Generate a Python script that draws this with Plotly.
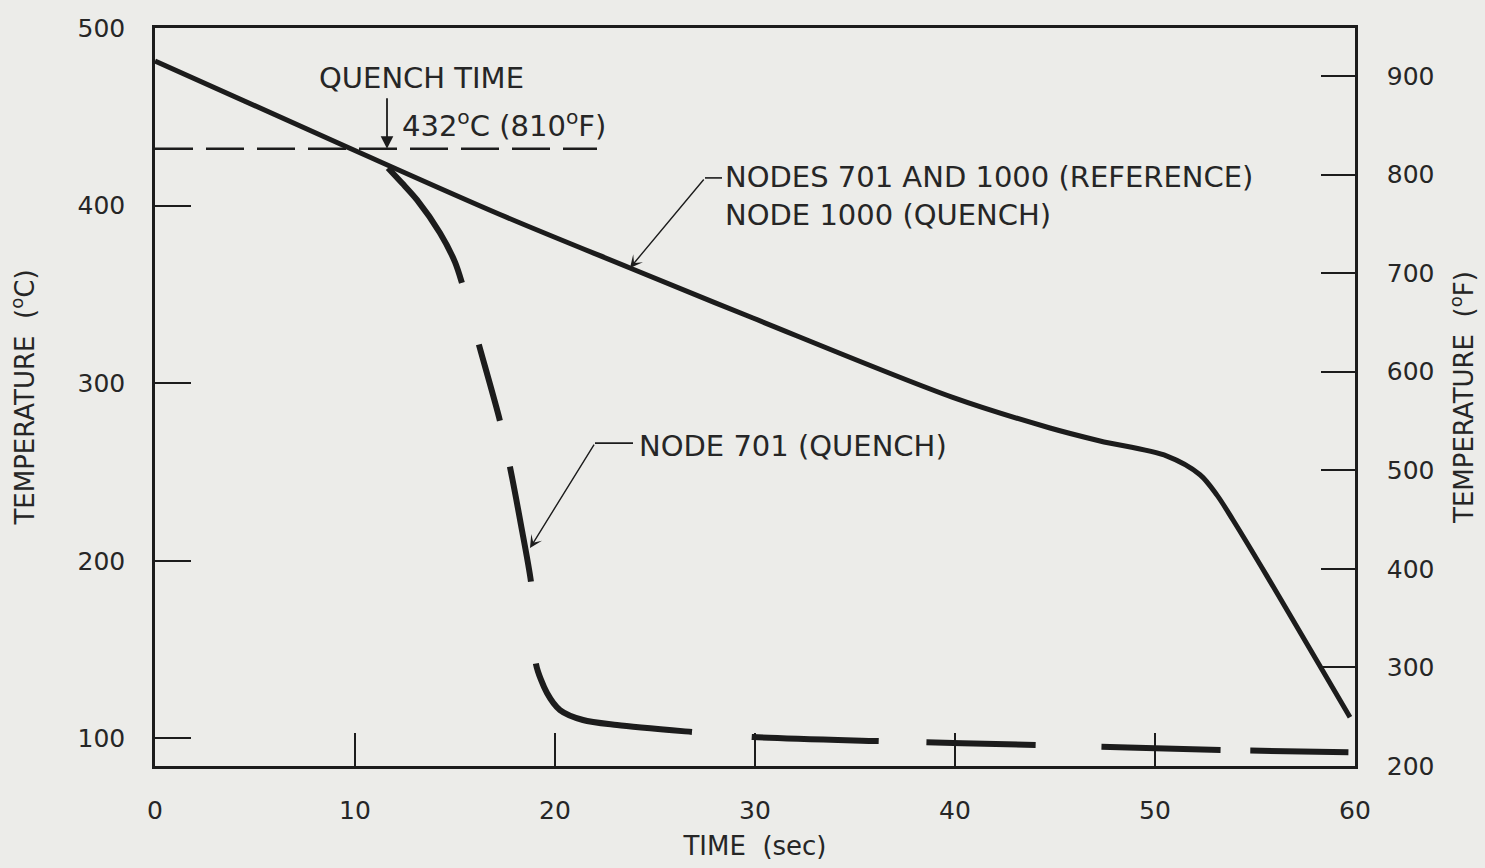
import plotly.graph_objects as go

# ---- data -------------------------------------------------------------
# Time axis ticks (sec) and temperature ticks
time_ticks = [0, 10, 20, 30, 40, 50, 60]
temp_c_ticks = [100, 200, 300, 400, 500]
temp_f_ticks = [200, 300, 400, 500, 600, 700, 800, 900]

# Nodes 701 and 1000 (reference) / node 1000 (quench), deg C
ref_time = [0, 9.6, 17.25, 23.75, 29.9, 39.85, 44.75, 47.25,
            50.6, 52.25, 53.1, 53.9, 55.6, 58.1, 59.75]
ref_temp = [481.4, 433.0, 395.0, 364.9, 336.7, 292.2, 274.8, 267.5,
            259.0, 248.5, 237.0, 223.0, 191.4, 143.6, 112.0]

# Node 701 (quench), deg C
quench_time = [11.65, 12.35, 13.1, 14.25, 15.0, 15.35, 16.2, 17.25, 17.75,
               18.3, 18.8, 19.0, 19.05, 19.6, 20.25, 21.4, 23.1, 26.9,
               29.9, 36.25, 44.1, 53.35, 59.75]
quench_temp = [421.2, 412.7, 403.2, 384.6, 368.2, 356.4, 321.5, 278.7, 252.8,
               220.2, 188.1, 161.0, 141.9, 125.6, 116.0, 110.4, 107.6, 103.6,
               100.8, 98.5, 96.3, 93.5, 92.3]

# Quench temperature marker line
quench_level_c = 432
quench_level_time = [0, 22.1]
quench_instant = 11.6

# ---- styling ----------------------------------------------------------
INK = "#1c1c1c"
TXT = "#262626"
PAPER = "#ecece9"
FONT = "DejaVu Sans"

fig = go.Figure()

fig.add_trace(go.Scatter(
    x=quench_level_time, y=[quench_level_c] * len(quench_level_time),
    mode="lines", line=dict(color=INK, width=2.5, dash="38px,13px"),
    hoverinfo="skip", showlegend=False))

fig.add_trace(go.Scatter(
    x=ref_time, y=ref_temp, mode="lines",
    line=dict(color=INK, width=5, shape="spline", smoothing=0.9),
    name="NODES 701 AND 1000 (REFERENCE)", showlegend=False))

fig.add_trace(go.Scatter(
    x=quench_time, y=quench_temp, mode="lines",
    line=dict(color=INK, width=6, shape="spline", smoothing=0.8,
              dash="138px,64px,79px,47px,117px,82px,188px,60px,127px,48px,"
                   "109px,66px,119px,30px,98px,40px"),
    name="NODE 701 (QUENCH)", showlegend=False))

# invisible trace to activate the deg F axis
fig.add_trace(go.Scatter(x=[None], y=[None], yaxis="y2", showlegend=False,
                         hoverinfo="skip"))

axis_common = dict(showgrid=False, zeroline=False, showline=True,
                   automargin=False,
                   linecolor=INK, linewidth=2.5, ticks="inside",
                   tickcolor=INK, tickwidth=2,
                   tickfont=dict(family=FONT, size=25, color=TXT))
title_font = dict(family=FONT, size=26, color=TXT)

fig.update_layout(
    width=1485, height=868,
    margin=dict(l=155, r=130, t=28, b=102),
    paper_bgcolor=PAPER, plot_bgcolor=PAPER,
    xaxis=dict(range=[0, 60], tickvals=time_ticks, ticklen=33,
               mirror=True, ticklabelstandoff=20,
               title=dict(text="TIME  (sec)", standoff=14, font=title_font),
               **axis_common),
    yaxis=dict(range=[84.5, 500], tickvals=temp_c_ticks, ticklen=36,
               mirror=True, ticklabelstandoff=22,
               title=dict(text="TEMPERATURE  (<sup>o</sup>C)", standoff=36,
                          font=title_font),
               **axis_common),
    yaxis2=dict(range=[200, 948.7], tickvals=temp_f_ticks, ticklen=34,
                overlaying="y", side="right", ticklabelstandoff=24,
                title=dict(text="TEMPERATURE  (<sup>o</sup>F)", standoff=22,
                           font=title_font),
                **axis_common),
)

ann_font = dict(family=FONT, size=29, color=TXT)

fig.add_annotation(x=13.3, y=471.8, text="QUENCH TIME", showarrow=False,
                   font=ann_font)
fig.add_annotation(x=quench_instant, y=quench_level_c, ax=0, ay=-52, text="",
                   showarrow=True, arrowhead=2, arrowsize=1.4,
                   arrowwidth=1.8, arrowcolor=INK)
fig.add_annotation(x=12.25, y=446, xanchor="left",
                   text="432<sup>o</sup>C (810<sup>o</sup>F)",
                   showarrow=False, font=ann_font)

fig.add_annotation(x=28.4, y=405.4, xanchor="left", align="left",
                   text="NODES 701 AND 1000 (REFERENCE)<br>NODE 1000 (QUENCH)",
                   showarrow=False, font=ann_font)
fig.add_annotation(x=23.75, y=364.9, ax=75, ay=-90, text="",
                   showarrow=True, arrowhead=3, arrowsize=1.5,
                   arrowwidth=1.4, arrowcolor=INK)
fig.add_shape(type="line", x0=27.5, x1=28.35, y0=415.6, y1=415.6,
              line=dict(color=INK, width=1.6))

fig.add_annotation(x=24.1, y=264.6, xanchor="left",
                   text="NODE 701 (QUENCH)", showarrow=False, font=ann_font)
fig.add_annotation(x=18.75, y=207.2, ax=65, ay=-105, text="",
                   showarrow=True, arrowhead=3, arrowsize=1.5,
                   arrowwidth=1.4, arrowcolor=INK)
fig.add_shape(type="line", x0=22.0, x1=23.9, y0=266.3, y1=266.3,
              line=dict(color=INK, width=1.6))

fig.write_html("out.html")
